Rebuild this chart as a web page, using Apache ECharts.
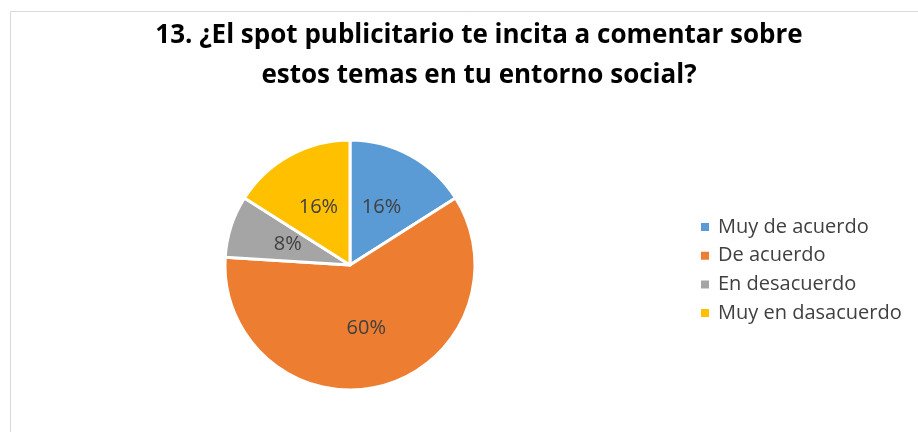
<!DOCTYPE html>
<html>
<head>
<meta charset="utf-8">
<script src="https://cdn.jsdelivr.net/npm/echarts@6/dist/echarts.min.js"></script>
<style>
  html, body { margin: 0; padding: 0; background: #fff; }
  #chart { width: 918px; height: 432px; }
</style>
</head>
<body>
<div id="chart"></div>
<script>
// Survey answers and their share of responses (%)
const categories = ['Muy de acuerdo', 'De acuerdo', 'En desacuerdo', 'Muy en dasacuerdo'];
const shares = [16, 60, 8, 16];
const colors = ['#5B9BD5', '#ED7D31', '#A5A5A5', '#FFC000'];
const titleText = '13. ¿El spot publicitario te incita a comentar sobre\nestos temas en tu entorno social?';

const chart = echarts.init(document.getElementById('chart'), null, { renderer: 'canvas' });

chart.setOption({
  animation: false,
  backgroundColor: '#ffffff',
  graphic: [{
    type: 'rect',
    shape: { x: 10.5, y: 11.5, width: 920, height: 440 },
    style: { fill: 'none', stroke: '#d9d9d9', lineWidth: 1 },
    silent: true
  }],
  title: {
    text: titleText,
    left: 474,
    top: 11,
    textAlign: 'center',
    textStyle: {
      fontFamily: 'Open Sans',
      fontWeight: 'bold',
      fontSize: 26,
      lineHeight: 40,
      color: '#000000'
    }
  },
  legend: {
    orient: 'vertical',
    left: 694,
    top: 212,
    itemWidth: 10,
    itemHeight: 10,
    itemGap: 8.7,
    icon: 'rect',
    textStyle: { fontFamily: 'Open Sans', fontSize: 20, lineHeight: 20, color: '#404040', padding: [0, 0, 0, 3] },
    data: categories
  },
  series: [{
    type: 'pie',
    center: [350, 265],
    radius: [0, 125],
    startAngle: 90,
    clockwise: true,
    color: colors,
    itemStyle: { borderColor: '#ffffff', borderWidth: 3 },
    label: {
      position: 'inside',
      formatter: '{c}%',
      fontFamily: 'Open Sans',
      fontSize: 20,
      color: '#404040'
    },
    labelLine: { show: false },
    emphasis: { disabled: true },
    data: categories.map((name, i) => ({ name: name, value: shares[i] }))
  }]
});
</script>
</body>
</html>
